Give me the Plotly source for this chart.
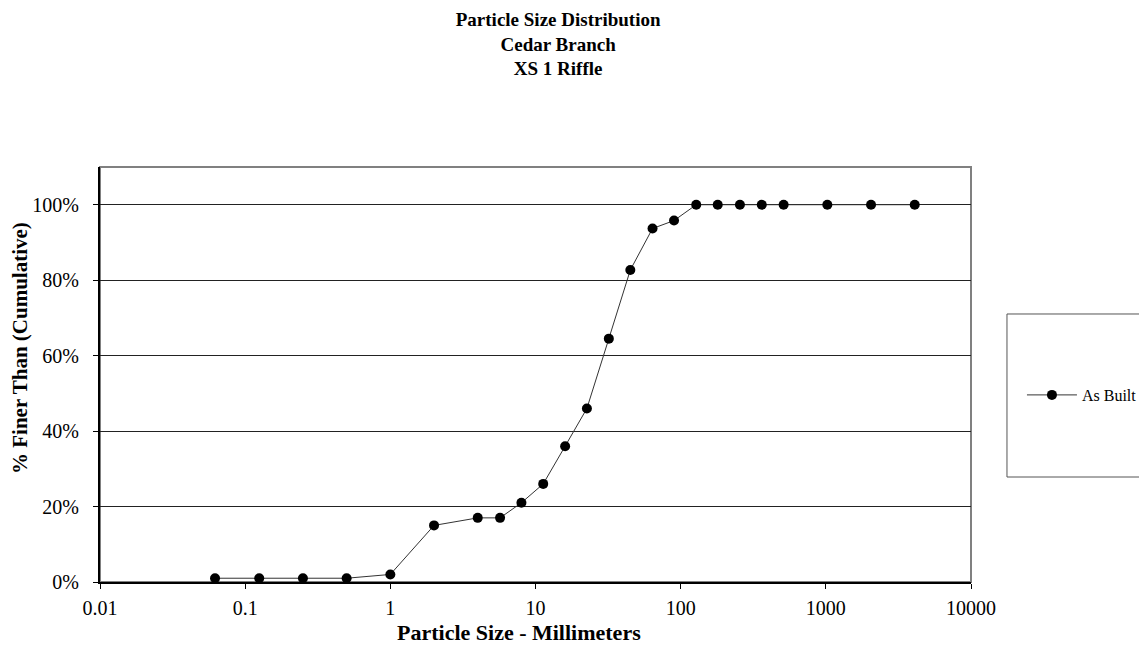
import plotly.graph_objects as go

particle_size_mm = [0.062, 0.125, 0.25, 0.5, 1, 2, 4, 5.7, 8, 11.3, 16, 22.6, 32, 45,
                    64, 90, 128, 180, 256, 362, 512, 1024, 2048, 4096]
pct_finer = [0.01, 0.01, 0.01, 0.01, 0.02, 0.15, 0.17, 0.17, 0.21, 0.26, 0.36, 0.46,
             0.645, 0.827, 0.937, 0.958, 1.0, 1.0, 1.0, 1.0, 1.0, 1.0, 1.0, 1.0]
x_tick_vals = [0.01, 0.1, 1, 10, 100, 1000, 10000]
x_tick_text = ["0.01", "0.1", "1", "10", "100", "1000", "10000"]
series_name = "As Built"
chart_title = "<b>Particle Size Distribution<br>Cedar Branch<br>XS 1 Riffle</b>"
x_title = "<b>Particle Size - Millimeters</b>"
y_title = "<b>% Finer Than (Cumulative)</b>"

FONT = "Liberation Serif, Times New Roman, serif"

fig = go.Figure()
fig.add_trace(go.Scatter(
    x=particle_size_mm, y=pct_finer, mode="lines+markers", name=series_name,
    line=dict(color="#333333", width=1),
    marker=dict(color="black", size=10, symbol="circle"),
))

# page body has an 8px margin, so the figure is sized 8px smaller
fig.update_layout(
    width=1139, height=642,
    margin=dict(l=92, r=176, t=159, b=68, autoexpand=False),
    paper_bgcolor="white", plot_bgcolor="white",
    font=dict(family=FONT, size=16, color="black"),
    title=dict(
        text=chart_title, xref="container", yref="container",
        x=0.483, xanchor="center", y=0.972, yanchor="middle",
        font=dict(family=FONT, size=19, color="black"),
    ),
    showlegend=True,
    legend=dict(x=1.0585, y=0.4506, xanchor="left", yanchor="middle",
                bgcolor="rgba(0,0,0,0)", borderwidth=0,
                font=dict(family=FONT, size=16, color="black"),
                itemwidth=50),
    shapes=[
        dict(type="rect", xref="paper", yref="paper", x0=0, x1=1, y0=0, y1=1,
             line=dict(color="#808080", width=2), layer="below"),
        dict(type="rect", xref="paper", yref="paper", x0=1.0413, x1=1.2, y0=0.253, y1=0.6458,
             line=dict(color="#555555", width=1), fillcolor="white", layer="below"),
    ],
    annotations=[
        dict(text=x_title, xref="paper", yref="paper", x=0.481, y=-0.1205,
             xanchor="center", yanchor="middle", showarrow=False,
             font=dict(family=FONT, size=22, color="black")),
        dict(text=y_title, xref="paper", yref="paper", x=-0.0918, y=0.564,
             xanchor="center", yanchor="middle", showarrow=False, textangle=-90,
             font=dict(family=FONT, size=21, color="black")),
    ],
)

fig.update_xaxes(
    type="log", range=[-2, 4], automargin=False,
    tickvals=x_tick_vals, ticktext=x_tick_text,
    showline=True, linecolor="black", linewidth=2,
    ticks="outside", ticklen=5, tickcolor="black",
    showgrid=False, zeroline=False,
    tickfont=dict(family=FONT, size=20), ticklabelstandoff=2,
)
fig.update_yaxes(
    range=[0, 1.1], dtick=0.2, tick0=0, tickformat=".0%", automargin=False,
    showline=True, linecolor="black", linewidth=2,
    ticks="outside", ticklen=5, tickcolor="black",
    showgrid=True, gridcolor="#222222", gridwidth=1, zeroline=False,
    tickfont=dict(family=FONT, size=20), ticklabelstandoff=10,
)

fig.write_html("out.html")
